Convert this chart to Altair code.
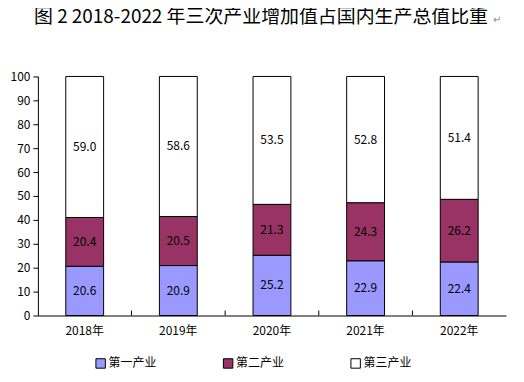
import altair as alt
import pandas as pd

years = ["2018年", "2019年", "2020年", "2021年", "2022年"]
industries = ["第一产业", "第二产业", "第三产业"]
primary = [20.6, 20.9, 25.2, 22.9, 22.4]
secondary = [20.4, 20.5, 21.3, 24.3, 26.2]
tertiary = [59.0, 58.6, 53.5, 52.8, 51.4]
colors = ["#9999FF", "#993366", "#FFFFFF"]
y_ticks = list(range(0, 101, 10))
title_text = "图 2 2018-2022 年三次产业增加值占国内生产总值比重"

rows = []
for i, y in enumerate(years):
    base = 0.0
    for k, (name, vals) in enumerate(zip(industries, [primary, secondary, tertiary])):
        v = vals[i]
        rows.append({"year": y, "industry": name, "value": v, "order": k,
                     "mid": base + v / 2})
        base += v
df = pd.DataFrame(rows)

FONT = "Noto Sans CJK SC"

x_enc = alt.X("year:N", sort=years,
              scale=alt.Scale(paddingInner=0, paddingOuter=0),
              axis=alt.Axis(title=None, labelAngle=0, ticks=False,
                            domainColor="black", labelColor="black",
                            labelFontSize=12, labelPadding=10, labelFont=FONT))

bars = alt.Chart(df).mark_bar(size=38, stroke="black", strokeWidth=1).encode(
    x=x_enc,
    y=alt.Y("value:Q", stack="zero",
            scale=alt.Scale(domain=[0, 100], nice=False),
            axis=alt.Axis(title=None, values=y_ticks, tickCount=11,
                          labelOverlap=False, grid=False,
                          domainColor="black", tickColor="black",
                          tickSize=5, labelColor="black", labelFontSize=12,
                          labelPadding=3, labelFont=FONT)),
    color=alt.Color("industry:N", sort=industries,
                    scale=alt.Scale(domain=industries, range=colors),
                    legend=alt.Legend(title=None, orient="none",
                                      legendX=57, legendY=282,
                                      direction="horizontal", columns=3,
                                      columnPadding=64,
                                      symbolType="square", symbolSize=90,
                                      symbolStrokeColor="black",
                                      symbolStrokeWidth=1,
                                      labelFontSize=12, labelFont=FONT,
                                      labelColor="black", labelOffset=2)),
    order=alt.Order("order:Q"),
)

labels = alt.Chart(df).mark_text(fontSize=12, font=FONT, color="black").encode(
    x=alt.X("year:N", sort=years),
    y=alt.Y("mid:Q"),
    text=alt.Text("value:Q", format=".1f"),
)

ticks = alt.Chart(pd.DataFrame({"year": years[1:]})).mark_rule(
    color="black", strokeWidth=1).encode(
    x=alt.X("year:N", sort=years, bandPosition=0),
    y=alt.value(240), y2=alt.value(235),
)

title = alt.Chart(pd.DataFrame({"t": [title_text]})).mark_text(
    fontSize=19, color="black", align="center", baseline="middle",
    font=FONT).encode(x=alt.value(224), y=alt.value(-60), text="t:N")

mark = alt.Chart(pd.DataFrame({"t": ["↵"]})).mark_text(
    fontSize=10, color="#888888", align="left", baseline="middle",
    font=FONT).encode(x=alt.value(457), y=alt.value(-57), text="t:N")

chart = alt.layer(bars, labels, ticks, title, mark).properties(
    width=470, height=240,
    autosize=alt.AutoSizeParams(type="none"),
    padding={"left": 30, "top": 68, "right": 10, "bottom": 60},
).configure_view(stroke=None)

chart.save("out.html", embed_options={"renderer": "svg", "actions": False})
